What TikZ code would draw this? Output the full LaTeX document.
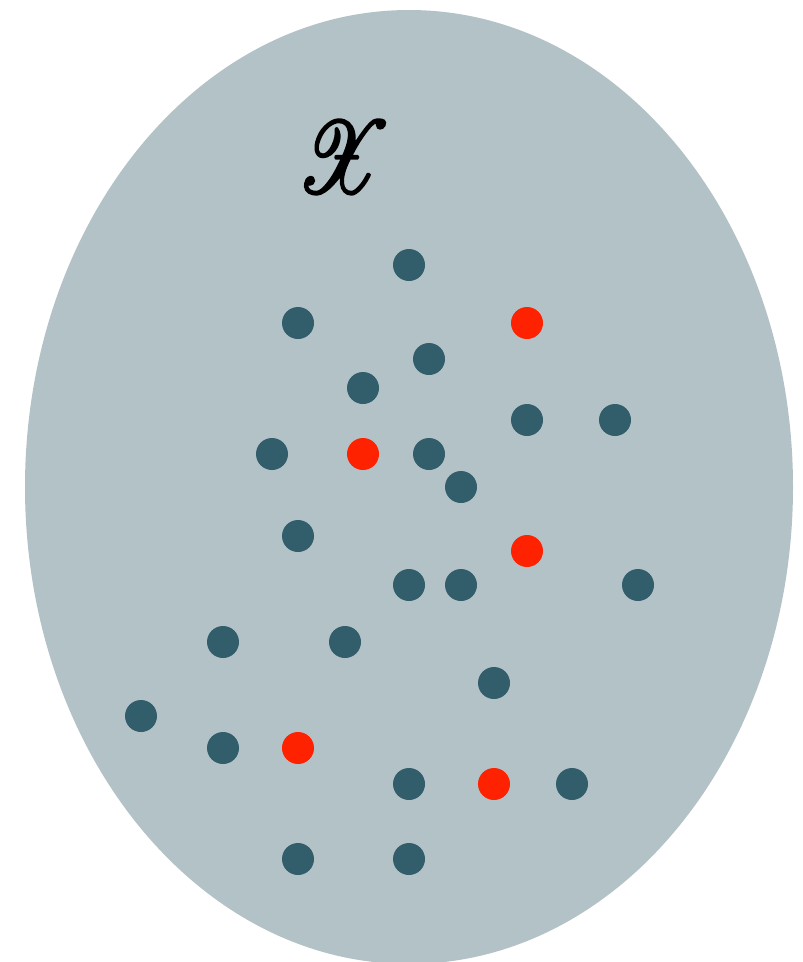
\documentclass[tikz,border=0pt]{standalone}
\usepackage{mathrsfs}
\usetikzlibrary{shapes.geometric}
\definecolor{setfill}{HTML}{B3C2C7}
\definecolor{dotdark}{HTML}{325E6C}
\definecolor{dotred}{HTML}{FF2200}
\begin{document}
\begin{tikzpicture}[x=1pt,y=-1pt,
  pt/.style={circle,fill=dotdark,inner sep=0pt,minimum size=32pt},
  hit/.style={circle,fill=dotred,inner sep=0pt,minimum size=32pt}]
\useasboundingbox (0,0) rectangle (803,962);
\node[ellipse,fill=setfill,minimum width=768pt,minimum height=954pt,inner sep=0pt] (space) at (409,487) {};
\node[xscale=8.4,yscale=10.2,xslant=-0.12] (lbl) at (344,157) {\special{pdf:literal direct 2 Tr 0.25 w}$\mathscr{X}$\special{pdf:literal direct 0 Tr}};
\foreach \x/\y [count=\i] in {409/265,298/323,429/359,363/388,527/420,615/420,272/454,429/454,461/487,298/536,409/585,461/585,638/585,223/642,345/642,494/683,141/716,223/748,409/784,572/784,298/859,409/859}
  \node[pt] (d\i) at (\x,\y) {};
\foreach \x/\y [count=\i] in {527/323,363/454,527/551,298/748,494/784}
  \node[hit] (r\i) at (\x,\y) {};
\end{tikzpicture}
\end{document}
